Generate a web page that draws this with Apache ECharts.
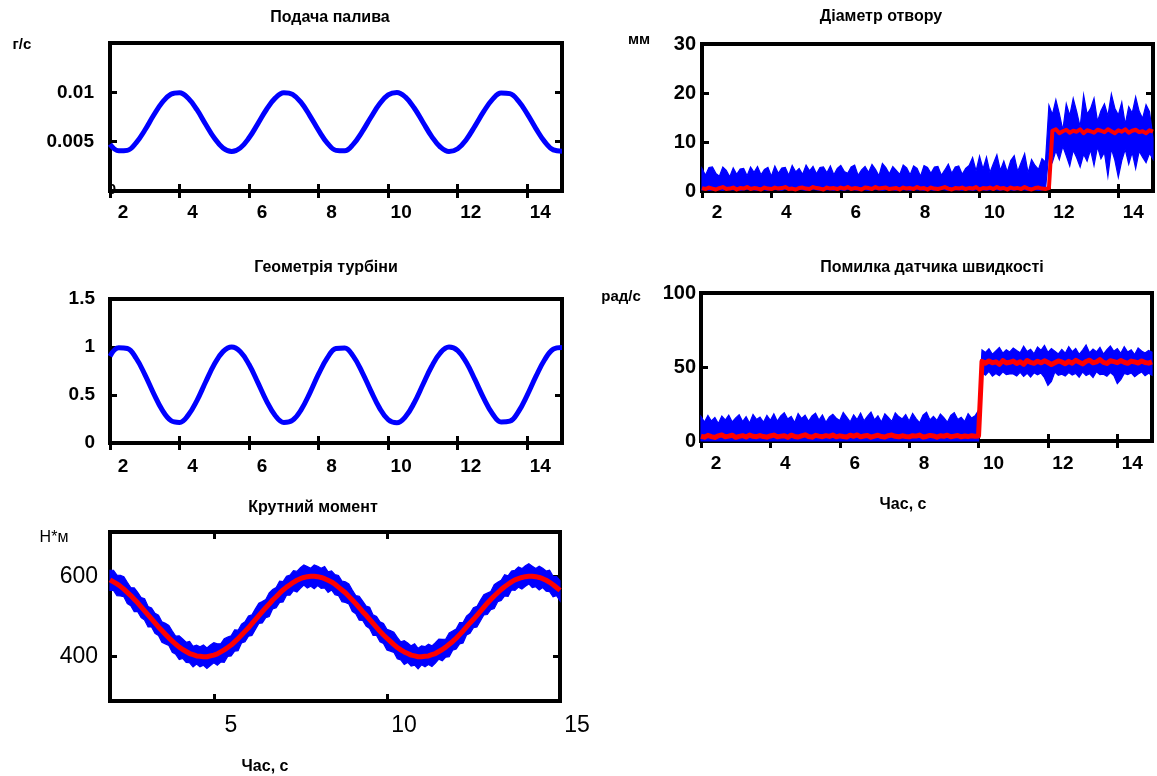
<!DOCTYPE html>
<html><head><meta charset="utf-8">
<script src="https://cdn.jsdelivr.net/npm/echarts@6/dist/echarts.min.js"></script>
<style>html,body{margin:0;padding:0;background:#fff}#c{width:1157px;height:776px}</style>
</head><body><div id="c"></div>
<script>
// ---------- data ----------
const xLabelsSmall = [2, 4, 6, 8, 10, 12, 14];
const xLabelsTorque = [5, 10, 15];
const yLabelsFuel = [0.005, 0.01];
const yLabelsTurbine = [0, 0.5, 1, 1.5];
const yLabelsDiameter = [0, 10, 20, 30];
const yLabelsSpeed = [0, 50, 100];
const yLabelsTorque = [400, 600];

// time grids (s)
const tCoarse = Array.from({length: 53}, (_, i) => 2 + i * 0.25);
const tFine = Array.from({length: 131}, (_, i) => Math.round((2 + i * 0.1) * 10) / 10);

// Подача палива (г/с), every 0.25 s
const fuelFlow = [0.00473,0.00407,0.00412,0.00488,0.00616,0.00765,0.00897,0.00981,0.00997,0.00940,
0.00824,0.00677,0.00537,0.00436,0.00400,0.00437,0.00539,0.00680,0.00826,0.00941,
0.00997,0.00980,0.00895,0.00762,0.00614,0.00486,0.00412,0.00407,0.00475,0.00599,
0.00745,0.00882,0.00974,0.00999,0.00951,0.00841,0.00697,0.00554,0.00446,0.00400,
0.00428,0.00523,0.00660,0.00806,0.00929,0.00994,0.00987,0.00911,0.00781,0.00633,
0.00501,0.00417,0.00404];

// Геометрія турбіни, every 0.25 s
const turbineGeom = [0.904,0.991,0.984,0.884,0.715,0.520,0.345,0.234,0.214,0.290,
0.442,0.635,0.820,0.952,1.000,0.951,0.817,0.631,0.439,0.287,
0.214,0.236,0.348,0.523,0.719,0.886,0.985,0.990,0.902,0.739,
0.546,0.366,0.244,0.211,0.274,0.419,0.609,0.797,0.939,0.999,
0.963,0.839,0.657,0.465,0.304,0.218,0.227,0.328,0.498,0.693,
0.867,0.977,0.995];

// Діаметр отвору (мм), every 0.1 s: measured noise band (upper / lower edge) and estimate
const diameterUpper = [4.6,3.2,4.8,4.9,3.6,3.0,4.9,4.2,2.9,4.7,
3.4,4.5,4.6,3.1,4.9,3.8,5.0,3.3,4.4,4.8,
3.0,5.1,3.6,4.7,4.8,3.2,5.2,3.9,4.6,3.4,
5.3,4.1,5.0,3.5,4.8,4.9,3.7,5.1,3.3,4.6,
5.2,4.0,3.6,4.9,5.3,3.2,4.3,5.0,3.8,5.4,
4.4,3.1,5.6,4.8,3.5,5.0,4.2,3.4,5.3,4.7,
3.3,5.1,4.6,3.0,5.2,4.8,3.6,4.9,5.0,3.2,
4.3,5.5,3.6,4.9,5.1,3.4,4.6,5.2,6.8,4.1,
7.1,4.5,6.9,3.8,5.6,7.4,4.2,6.1,3.9,6.2,
7.2,4.0,5.8,7.6,3.7,6.4,5.2,4.4,6.6,5.9,
17.5,15.6,18.6,15.8,12.4,17.8,15.4,18.9,16.2,13.1,
19.6,15.7,16.8,18.9,14.2,16.4,17.8,15.3,19.8,16.9,
15.5,18.1,13.6,17.2,15.9,19.2,16.3,14.8,17.6,16.2,
10.8];
const diameterLower = [0.2,0.3,0.1,0.2,0.3,0.2,0.1,0.3,0.2,0.2,
0.3,0.1,0.2,0.3,0.2,0.2,0.1,0.3,0.2,0.1,
0.2,0.3,0.2,0.1,0.3,0.2,0.2,0.1,0.3,0.2,
0.1,0.2,0.3,0.2,0.1,0.3,0.2,0.2,0.1,0.3,
0.2,0.1,0.3,0.2,0.2,0.1,0.3,0.2,0.1,0.2,
0.3,0.2,0.1,0.2,0.3,0.2,0.1,0.3,0.2,0.2,
0.1,0.3,0.2,0.2,0.1,0.3,0.2,0.1,0.2,0.3,
0.2,0.1,0.3,0.2,0.2,0.1,0.3,0.2,0.1,0.2,
0.3,0.2,0.1,0.2,0.3,0.2,0.1,0.3,0.2,0.2,
0.1,0.3,0.2,0.2,0.1,0.3,0.2,0.1,0.2,0.3,
7.8,5.9,8.2,6.4,9.1,7.2,5.1,8.3,6.8,4.9,
7.5,6.1,8.4,5.2,9.0,6.6,7.9,3.0,8.6,6.3,
2.8,6.2,8.5,5.5,7.9,4.6,8.1,6.9,5.8,7.7,
6.5];
const diameterEstimated = [0.6,0.4,0.7,0.5,0.3,0.6,0.8,0.4,0.5,0.7,0.3,0.6,0.5,0.8,0.4,0.6,0.5,0.3,0.7,0.5,
0.4,0.7,0.5,0.6,0.8,0.4,0.5,0.3,0.6,0.7,0.5,0.4,0.8,0.6,0.5,0.3,0.7,0.5,0.6,0.4,
0.7,0.5,0.8,0.4,0.6,0.5,0.3,0.7,0.6,0.4,0.8,0.5,0.6,0.7,0.4,0.5,0.6,0.3,0.7,0.5,
0.6,0.4,0.8,0.5,0.6,0.3,0.7,0.5,0.4,0.6,0.8,0.5,0.3,0.6,0.5,0.7,0.4,0.6,0.5,0.8,
0.3,0.6,0.5,0.7,0.4,0.8,0.5,0.6,0.3,0.7,0.5,0.6,0.4,0.8,0.5,0.3,0.6,0.7,0.5,0.4,
0.6,12.3,12.6,11.8,12.2,12.5,11.9,12.3,12.1,12.6,11.8,12.4,12.2,11.9,12.5,12.3,12.0,12.6,12.2,11.8,
12.4,12.1,12.6,11.9,12.3,12.5,12.0,12.2,11.8,12.4,12.1];

// Помилка датчика швидкості (рад/с), every 0.1 s
const speedUpper = [16.5,12.8,17.2,13.5,15.9,11.8,16.8,14.2,17.5,12.9,
15.6,17.8,13.1,16.4,12.2,17.9,14.6,16.1,12.7,17.3,
14.0,18.3,13.4,17.0,19.1,14.8,16.6,12.5,18.6,15.2,
17.4,13.3,16.9,18.8,14.1,17.6,12.6,16.3,18.1,15.4,
13.8,19.3,16.2,12.9,17.7,14.5,18.9,13.6,16.8,19.5,
14.3,17.1,12.8,18.4,15.9,13.2,19.0,16.5,14.9,17.8,
13.5,18.6,15.1,12.4,17.5,19.4,14.2,16.7,13.9,18.2,
15.8,12.7,17.3,19.2,14.6,16.0,13.1,18.5,15.5,17.0,
20.8,61.5,59.8,62.3,58.6,60.9,63.2,59.4,61.7,60.2,
62.8,61.1,59.6,64.1,60.5,62.0,58.9,63.5,61.3,64.6,
59.9,62.4,60.7,58.8,61.9,59.3,63.8,60.4,62.6,58.5,
61.4,64.9,59.7,62.1,60.3,63.3,58.7,61.8,64.2,60.6,
62.5,59.2,63.7,60.1,61.6,58.4,62.9,60.8,59.5,61.2,
60.0];
const speedLower = [0,0,0,0,0,0,0,0,0,0, 0,0,0,0,0,0,0,0,0,0,
0,0,0,0,0,0,0,0,0,0, 0,0,0,0,0,0,0,0,0,0,
0,0,0,0,0,0,0,0,0,0, 0,0,0,0,0,0,0,0,0,0,
0,0,0,0,0,0,0,0,0,0, 0,0,0,0,0,0,0,0,0,0,
0,46.2,44.5,47.1,43.8,45.6,44.1,46.8,44.9,45.3,
45.3,44.0,46.4,43.6,45.8,43.2,46.1,44.7,45.9,42.8,
37.5,40.2,46.6,44.4,45.2,43.9,46.3,44.6,45.7,43.1,
46.6,44.2,45.5,42.9,46.8,44.8,45.1,43.7,46.2,44.3,
38.8,41.5,45.6,44.9,46.0,43.4,45.3,46.7,44.1,45.8,
44.5];
const speedEstimated = [3.2,2.6,3.8,3.0,2.4,3.5,4.1,2.8,3.3,3.9,2.5,3.1,3.6,2.7,4.0,3.2,2.9,3.7,3.0,2.6,
3.4,4.0,2.8,3.3,3.6,2.5,3.9,3.1,2.7,3.5,4.2,3.0,2.6,3.8,3.3,2.9,3.6,3.1,4.0,2.8,
3.5,3.0,2.7,3.9,3.2,4.1,2.8,3.4,3.7,2.6,3.3,3.9,3.0,2.7,3.6,4.0,3.2,2.9,3.5,3.1,
2.8,3.6,3.3,4.0,2.7,3.1,3.8,3.4,2.6,3.5,3.2,3.9,2.9,3.3,3.7,2.8,3.4,3.0,3.6,3.2,
3.4,53.8,52.6,54.1,52.9,53.5,51.8,54.3,52.7,53.2,54.0,52.4,53.6,51.9,54.4,53.1,52.5,53.9,52.8,54.2,
53.0,51.7,52.9,54.1,53.4,52.2,53.8,52.6,54.5,53.3,52.1,53.7,54.6,52.8,53.5,55.0,53.1,52.4,54.2,53.6,
52.9,54.3,53.2,52.5,54.0,53.4,52.7,54.1,53.0,52.6,53.5];

// Крутний момент (Н*м), every 0.1 s
const torqueUpper = [615,615,603,602,599,585,572,571,560,547,
544,525,521,508,503,487,483,478,464,451,
452,444,436,438,426,429,425,429,422,429,
435,432,432,445,449,452,467,466,481,487,
501,504,519,533,537,542,559,567,572,588,
587,600,603,614,612,621,628,624,620,628,
625,620,624,611,613,604,602,588,586,581,
566,552,550,538,526,523,504,500,487,483,
468,465,461,448,437,440,434,427,432,421,
427,425,431,427,435,444,443,444,459,464,
469,485,485,501,508,522,525,540,554,558,
562,579,585,590,604,601,613,615,623,619,
626,631,625,619,625,620,613,615,600,599,
589];
const torqueLower = [565,565,552,551,549,532,527,512,512,497,
491,474,474,458,453,436,432,428,411,406,
393,396,386,385,375,382,375,379,371,378,
385,379,387,386,401,402,414,415,434,437,
451,453,468,483,484,497,500,519,522,535,
536,553,553,564,561,570,578,571,575,569,
577,570,571,560,566,554,552,537,535,531,
513,507,491,490,476,470,453,453,437,433,
417,414,411,395,392,381,386,377,379,370,
380,375,381,376,384,394,390,399,400,416,
419,432,434,454,458,472,474,489,504,505,
517,520,537,540,551,550,566,565,573,568,
575,581,572,574,566,572,563,562,549,552,
539];
const torqueEstimated = [591,586,581,575,568,560,552,543,534,524,
514,504,494,484,474,465,456,447,439,431,
424,418,413,408,405,402,401,400,400,402,
404,407,412,417,423,429,437,445,454,463,
472,482,492,502,512,522,531,541,549,558,
566,573,579,585,590,594,597,599,600,600,
599,597,594,590,586,580,573,566,559,550,
541,532,522,512,503,493,483,473,463,454,
446,438,430,423,417,412,408,404,402,400,
400,401,402,405,408,413,418,424,431,438,
446,455,464,474,484,493,503,513,523,533,
542,551,559,567,574,580,586,591,594,597,
599,600,600,599,597,594,590,585,579,572,
565];

// ---------- layout ----------
const FONT = '"Liberation Sans", Arial, Helvetica, sans-serif';
const BLUE = '#0000ff', RED = '#ff0000';
const zip = (xs, ys) => ys.map((y, i) => [xs[i], y]);

const panels = [
  {grid: {left: 110, top: 43, width: 452, height: 148}, yMin: 0, yMax: 0.015,
   xLab: xLabelsSmall, xTick: xLabelsSmall, xFont: 19, xWeight: 'bold', xPad: 26, xMargin: 12,
   yLab: yLabelsFuel, yTick: yLabelsFuel, yFont: 19, yWeight: 'bold', yMargin: 16, yPadTop: 6},
  {grid: {left: 702, top: 44, width: 451, height: 147}, yMin: 0, yMax: 30,
   xLab: xLabelsSmall, xTick: xLabelsSmall, xFont: 19, xWeight: 'bold', xPad: 30, xMargin: 12,
   yLab: yLabelsDiameter, yTick: [10, 20], yFont: 20, yWeight: 'bold', yMargin: 6, yPadTop: 2},
  {grid: {left: 110, top: 299, width: 452, height: 144}, yMin: 0, yMax: 1.5,
   xLab: xLabelsSmall, xTick: xLabelsSmall, xFont: 19, xWeight: 'bold', xPad: 26, xMargin: 14,
   yLab: yLabelsTurbine, yTick: [0.5, 1], yFont: 19, yWeight: 'bold', yMargin: 15, yPadTop: 4},
  {grid: {left: 701, top: 293, width: 451, height: 148}, yMin: 0, yMax: 100,
   xLab: xLabelsSmall, xTick: xLabelsSmall, xFont: 19, xWeight: 'bold', xPad: 30, xMargin: 13,
   yLab: yLabelsSpeed, yTick: [50], yFont: 20, yWeight: 'bold', yMargin: 5, yPadTop: 4},
  {grid: {left: 110, top: 532, width: 450, height: 169}, yMin: 290, yMax: 710,
   xLab: xLabelsTorque, xTick: [5, 10], xFont: 23, xWeight: 'normal', xPad: 34, xMargin: 13,
   yLab: yLabelsTorque, yTick: yLabelsTorque, yFont: 23, yWeight: 'normal', yMargin: 12, yPadTop: 2}
];

const grids = [], xAxes = [], yAxes = [];
panels.forEach((p, gi) => {
  grids.push(Object.assign({show: true, borderWidth: 4, borderColor: '#000',
    backgroundColor: 'transparent', containLabel: false, outerBoundsMode: 'none'}, p.grid));
  const tick = (vals) => ({show: true, inside: true, length: 7, customValues: vals,
    lineStyle: {color: '#000', width: 3}});
  ['bottom', 'top'].forEach((pos, k) => {
    xAxes.push({type: 'value', gridIndex: gi, position: pos, min: 2, max: 15,
      axisLine: {show: false}, splitLine: {show: false}, axisTick: tick(p.xTick),
      axisLabel: k === 0 ? {show: true, customValues: p.xLab, color: '#000', fontSize: p.xFont,
        fontWeight: p.xWeight, fontFamily: FONT, margin: p.xMargin, padding: [0, 0, 0, p.xPad],
        hideOverlap: false} : {show: false}});
  });
  ['left', 'right'].forEach((pos, k) => {
    yAxes.push({type: 'value', gridIndex: gi, position: pos, min: p.yMin, max: p.yMax,
      axisLine: {show: false}, splitLine: {show: false}, axisTick: tick(p.yTick),
      axisLabel: k === 0 ? {show: true, customValues: p.yLab, color: '#000', fontSize: p.yFont,
        fontWeight: p.yWeight, fontFamily: FONT, margin: p.yMargin, padding: [p.yPadTop, 0, 0, 0],
        hideOverlap: false} : {show: false}});
  });
});

const line = (gi, data, color, width) => ({type: 'line', xAxisIndex: 2 * gi, yAxisIndex: 2 * gi,
  data, symbol: 'none', showSymbol: false, smooth: false, clip: true, silent: true,
  lineStyle: {color, width, join: 'round'}, emphasis: {disabled: true}});

// noisy measured signal: filled band between its lower and upper edges, placed via the axes
const band = (gi, lower, upper) => ({
  type: 'custom', xAxisIndex: 2 * gi, yAxisIndex: 2 * gi, silent: true,
  data: [[tFine[0], lower[0]]],
  renderItem: (params, api) => {
    const pts = [];
    for (let i = 0; i < tFine.length; i++) pts.push(api.coord([tFine[i], upper[i]]));
    for (let i = tFine.length - 1; i >= 0; i--) pts.push(api.coord([tFine[i], lower[i]]));
    return {type: 'polygon', shape: {points: pts},
      style: {fill: BLUE, stroke: BLUE, lineWidth: 1.2, lineJoin: 'miter'}};
  }
});

const series = [
  Object.assign(line(0, zip(tCoarse, fuelFlow), BLUE, 5), {smooth: 0.4}),
  band(1, diameterLower, diameterUpper),
  line(1, zip(tFine, diameterEstimated), RED, 4),
  Object.assign(line(2, zip(tCoarse, turbineGeom), BLUE, 5), {smooth: 0.4}),
  band(3, speedLower, speedUpper),
  line(3, zip(tFine, speedEstimated), RED, 5),
  band(4, torqueLower, torqueUpper),
  line(4, zip(tFine, torqueEstimated), RED, 5)
];

const txt = (text, x, y, size, weight) => ({type: 'text', x, y, z: 100,
  style: {text, fill: '#000', font: weight + ' ' + size + 'px ' + FONT,
    fontSize: size, fontWeight: weight, fontFamily: FONT,
    textAlign: 'center', align: 'center', textVerticalAlign: 'middle', verticalAlign: 'middle'}});

const graphics = [
  txt('Подача палива', 330, 18, 16, 'bold'),
  txt('Діаметр отвору', 881, 17, 16, 'bold'),
  txt('Геометрія турбіни', 326, 268, 16, 'bold'),
  txt('Помилка датчика швидкості', 932, 268, 16, 'bold'),
  txt('Крутний момент', 313, 508, 16, 'bold'),
  txt('г/с', 22, 45, 15, 'bold'),
  txt('мм', 639, 40, 15, 'bold'),
  txt('рад/с', 621, 297, 15, 'bold'),
  txt('Н*м', 54, 538, 16, 'normal'),
  txt('Час, с', 903, 505, 16, 'bold'),
  txt('Час, с', 265, 767, 16, 'bold'),
  txt('0', 112, 190, 15, 'bold')
];

const chart = echarts.init(document.getElementById('c'), null, {renderer: 'canvas'});
chart.setOption({
  animation: false,
  backgroundColor: '#fff',
  tooltip: {show: false},
  grid: grids, xAxis: xAxes, yAxis: yAxes, series, graphic: graphics
});
</script></body></html>
